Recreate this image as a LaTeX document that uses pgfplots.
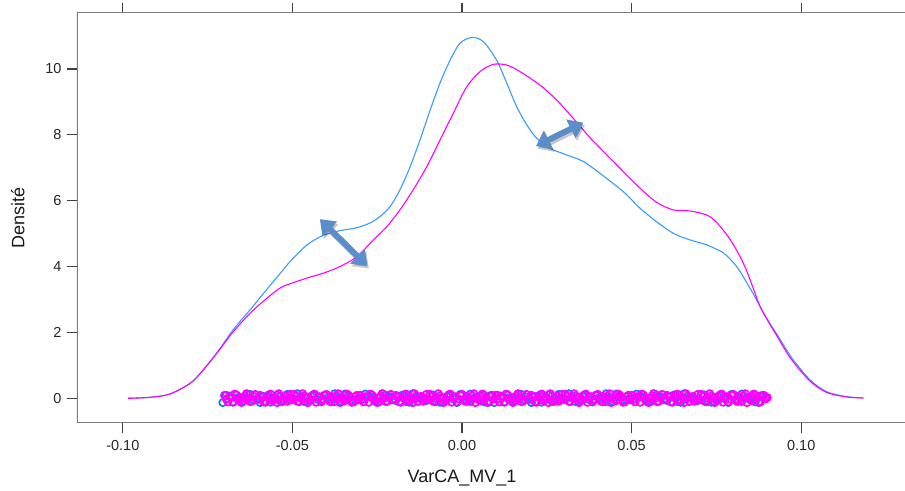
\documentclass[border=0pt]{standalone}
\usepackage{fontspec}
\setmainfont{Liberation Sans}
\usepackage{pgfplots}
\pgfplotsset{compat=1.18}
\usetikzlibrary{arrows.meta}

\definecolor{grpblue}{HTML}{0080FF}
\definecolor{grpblueline}{RGB}{55,155,255}
\definecolor{grpmag}{HTML}{FF00FF}
\definecolor{arrowblue}{RGB}{90,142,202}
\definecolor{axisgray}{RGB}{125,125,125}

% kernel density estimates of VarCA_MV_1 for the two groups
\pgfplotstableread{
x y
-0.0984 0.00
-0.0920 0.03
-0.0861 0.13
-0.0802 0.45
-0.0772 0.75
-0.0743 1.11
-0.0713 1.52
-0.0684 1.95
-0.0655 2.33
-0.0625 2.68
-0.0600 3.00
-0.0576 3.30
-0.0550 3.62
-0.0527 3.90
-0.0507 4.15
-0.0458 4.65
-0.0409 4.95
-0.0360 5.09
-0.0310 5.18
-0.0270 5.33
-0.0242 5.52
-0.0212 5.82
-0.0183 6.33
-0.0153 7.03
-0.0124 7.84
-0.0094 8.75
-0.0065 9.57
-0.0035 10.27
-0.0006 10.78
0.0029 10.96
0.0063 10.83
0.0102 10.27
0.0132 9.57
0.0161 8.86
0.0190 8.32
0.0220 7.90
0.0259 7.59
0.0309 7.39
0.0358 7.19
0.0407 6.83
0.0476 6.27
0.0525 5.77
0.0574 5.36
0.0623 5.01
0.0672 4.81
0.0721 4.66
0.0770 4.42
0.0800 4.12
0.0820 3.85
0.0840 3.50
0.0860 3.15
0.0879 2.78
0.0903 2.35
0.0928 1.95
0.0952 1.55
0.0977 1.16
0.1026 0.56
0.1075 0.20
0.1134 0.05
0.1183 0.01
}\densblue

\pgfplotstableread{
x y
-0.0984 0.00
-0.0920 0.03
-0.0861 0.13
-0.0802 0.45
-0.0772 0.75
-0.0743 1.11
-0.0713 1.50
-0.0684 1.90
-0.0655 2.25
-0.0625 2.58
-0.0600 2.82
-0.0576 3.03
-0.0550 3.25
-0.0527 3.40
-0.0478 3.58
-0.0458 3.65
-0.0409 3.80
-0.0360 4.00
-0.0310 4.30
-0.0261 4.81
-0.0222 5.21
-0.0183 5.72
-0.0144 6.33
-0.0104 7.03
-0.0065 7.84
-0.0026 8.65
0.0014 9.46
0.0053 9.92
0.0092 10.14
0.0132 10.12
0.0171 9.92
0.0230 9.51
0.0279 9.06
0.0328 8.50
0.0377 7.92
0.0427 7.39
0.0476 6.88
0.0525 6.38
0.0574 5.95
0.0623 5.72
0.0672 5.69
0.0721 5.57
0.0745 5.40
0.0770 5.11
0.0795 4.75
0.0820 4.30
0.0840 3.85
0.0860 3.30
0.0879 2.78
0.0903 2.33
0.0928 1.90
0.0952 1.48
0.0977 1.10
0.1026 0.52
0.1075 0.18
0.1134 0.04
0.1183 0.01
}\densmag

\begin{document}
\begin{tikzpicture}
\begin{axis}[
  scale only axis,
  width=828bp, height=410.3bp,
  xmin=-0.1135, xmax=0.1306,
  ymin=-0.75, ymax=11.71,
  xtick={-0.1,-0.05,0,0.05,0.1},
  xticklabels={-0.10,-0.05,0.00,0.05,0.10},
  ytick={0,2,4,6,8,10},
  yticklabels={0,2,4,6,8,10},
  xtick pos=both, ytick pos=left,
  xticklabel pos=bottom,
  tick align=outside,
  major tick length=10bp,
  tick style={color=black!75, line width=1.1bp},
  axis line style={draw=none},
  tick label style={font=\fontsize{14.5bp}{17bp}\selectfont, color=black!85},
  xticklabel style={yshift=-4bp},
  yticklabel style={xshift=-2bp},
  xlabel={VarCA\_MV\_1},
  ylabel={Densité},
  label style={font=\fontsize{18bp}{21bp}\selectfont, color=black!90},
  xlabel style={at={(rel axis cs:0.465,-0.134)}, anchor=center},
  ylabel style={at={(rel axis cs:-0.0713,0.5)}, anchor=center},
  mark size=3.6bp,
]
% frame: left, bottom and top sides
\draw[axisgray, line width=1.6bp] (rel axis cs:1,1) -- (rel axis cs:0,1) -- (rel axis cs:0,0) -- (rel axis cs:1,0);
\coordinate (sw) at (rel axis cs:0,0);
\coordinate (ne) at (rel axis cs:1,1);

% jittered observations, first group
\addplot[only marks, mark=o, grpblue, mark options={line width=1.7bp}] coordinates {
(-0.0705,-0.13)(-0.0685,0.07)(-0.0665,0.00)(-0.0645,-0.09)(-0.0625,0.12)(-0.0605,-0.02)(-0.0585,0.05)(-0.0565,-0.12)(-0.0545,0.10)(-0.0525,-0.07)
(-0.0505,0.02)(-0.0485,0.14)(-0.0465,-0.10)(-0.0445,0.06)(-0.0425,-0.04)(-0.0405,0.09)(-0.0385,-0.11)(-0.0365,0.03)(-0.0345,0.13)(-0.0325,-0.05)
(-0.0305,-0.05)(-0.0285,0.13)(-0.0265,0.03)(-0.0245,-0.11)(-0.0225,0.09)(-0.0205,-0.04)(-0.0185,0.06)(-0.0165,-0.10)(-0.0145,0.14)(-0.0125,0.02)
(-0.0105,-0.07)(-0.0085,0.10)(-0.0065,-0.12)(-0.0045,0.05)(-0.0025,-0.02)(-0.0005,0.12)(0.0015,-0.09)(0.0035,0.00)(0.0055,0.07)(0.0075,-0.13)
(0.0095,-0.13)(0.0115,0.07)(0.0135,0.00)(0.0155,-0.09)(0.0175,0.12)(0.0195,-0.02)(0.0215,0.05)(0.0235,-0.12)(0.0255,0.10)(0.0275,-0.07)
(0.0295,0.02)(0.0315,0.14)(0.0335,-0.10)(0.0355,0.06)(0.0375,-0.04)(0.0395,0.09)(0.0415,-0.11)(0.0435,0.03)(0.0455,0.13)(0.0475,-0.05)
(0.0495,-0.05)(0.0515,0.13)(0.0535,0.03)(0.0555,-0.11)(0.0575,0.09)(0.0595,-0.04)(0.0615,0.06)(0.0635,-0.10)(0.0655,0.14)(0.0675,0.02)
(0.0695,-0.07)(0.0715,0.10)(0.0735,-0.12)(0.0755,0.05)(0.0775,-0.02)(0.0795,0.12)(0.0815,-0.09)(0.0835,0.00)(0.0855,0.07)(0.0875,-0.13)
(0.0895,0.04)
(-0.0695,0.09)(-0.0675,-0.11)(-0.0655,0.03)(-0.0635,0.13)(-0.0615,-0.05)(-0.0595,-0.13)(-0.0575,0.07)(-0.0555,0.00)(-0.0535,-0.09)(-0.0515,0.12)
(-0.0495,-0.02)(-0.0475,0.05)(-0.0455,-0.12)(-0.0435,0.10)(-0.0415,-0.07)(-0.0395,0.02)(-0.0375,0.14)(-0.0355,-0.10)(-0.0335,0.06)(-0.0315,-0.04)
(-0.0295,-0.04)(-0.0275,0.06)(-0.0255,-0.10)(-0.0235,0.14)(-0.0215,0.02)(-0.0195,-0.07)(-0.0175,0.10)(-0.0155,-0.12)(-0.0135,0.05)(-0.0115,-0.02)
(-0.0095,0.12)(-0.0075,-0.09)(-0.0055,0.00)(-0.0035,0.07)(-0.0015,-0.13)(0.0005,-0.05)(0.0025,0.13)(0.0045,0.03)(0.0065,-0.11)(0.0085,0.09)
(0.0105,0.09)(0.0125,-0.11)(0.0145,0.03)(0.0165,0.13)(0.0185,-0.05)(0.0205,-0.13)(0.0225,0.07)(0.0245,0.00)(0.0265,-0.09)(0.0285,0.12)
(0.0305,-0.02)(0.0325,0.05)(0.0345,-0.12)(0.0365,0.10)(0.0385,-0.07)(0.0405,0.02)(0.0425,0.14)(0.0445,-0.10)(0.0465,0.06)(0.0485,-0.04)
(0.0505,-0.04)(0.0525,0.06)(0.0545,-0.10)(0.0565,0.14)(0.0585,0.02)(0.0605,-0.07)(0.0625,0.10)(0.0645,-0.12)(0.0665,0.05)(0.0685,-0.02)
(0.0705,0.12)(0.0725,-0.09)(0.0745,0.00)(0.0765,0.07)(0.0785,-0.13)(0.0805,-0.05)(0.0825,0.13)(0.0845,0.03)(0.0865,-0.11)(0.0885,0.09)
};
\addplot[grpblueline, line width=1.1bp, smooth] table {\densblue};

% jittered observations, second group
\addplot[only marks, mark=o, grpmag, mark options={line width=1.7bp}] coordinates {
(-0.070,0.09)(-0.069,-0.11)(-0.068,0.03)(-0.067,0.13)(-0.066,-0.05)(-0.065,-0.13)(-0.064,0.07)(-0.063,0.00)(-0.062,-0.09)(-0.061,0.12)
(-0.060,-0.02)(-0.059,0.05)(-0.058,-0.12)(-0.057,0.10)(-0.056,-0.07)(-0.055,0.02)(-0.054,0.14)(-0.053,-0.10)(-0.052,0.06)(-0.051,-0.04)
(-0.050,-0.04)(-0.049,0.06)(-0.048,-0.10)(-0.047,0.14)(-0.046,0.02)(-0.045,-0.07)(-0.044,0.10)(-0.043,-0.12)(-0.042,0.05)(-0.041,-0.02)
(-0.040,0.12)(-0.039,-0.09)(-0.038,0.00)(-0.037,0.07)(-0.036,-0.13)(-0.035,-0.05)(-0.034,0.13)(-0.033,0.03)(-0.032,-0.11)(-0.031,0.09)
(-0.030,0.09)(-0.029,-0.11)(-0.028,0.03)(-0.027,0.13)(-0.026,-0.05)(-0.025,-0.13)(-0.024,0.07)(-0.023,0.00)(-0.022,-0.09)(-0.021,0.12)
(-0.020,-0.02)(-0.019,0.05)(-0.018,-0.12)(-0.017,0.10)(-0.016,-0.07)(-0.015,0.02)(-0.014,0.14)(-0.013,-0.10)(-0.012,0.06)(-0.011,-0.04)
(-0.010,-0.04)(-0.009,0.06)(-0.008,-0.10)(-0.007,0.14)(-0.006,0.02)(-0.005,-0.07)(-0.004,0.10)(-0.003,-0.12)(-0.002,0.05)(-0.001,-0.02)
(0.000,0.12)(0.001,-0.09)(0.002,0.00)(0.003,0.07)(0.004,-0.13)(0.005,-0.05)(0.006,0.13)(0.007,0.03)(0.008,-0.11)(0.009,0.09)
(0.010,0.09)(0.011,-0.11)(0.012,0.03)(0.013,0.13)(0.014,-0.05)(0.015,-0.13)(0.016,0.07)(0.017,0.00)(0.018,-0.09)(0.019,0.12)
(0.020,-0.02)(0.021,0.05)(0.022,-0.12)(0.023,0.10)(0.024,-0.07)(0.025,0.02)(0.026,0.14)(0.027,-0.10)(0.028,0.06)(0.029,-0.04)
(0.030,-0.04)(0.031,0.06)(0.032,-0.10)(0.033,0.14)(0.034,0.02)(0.035,-0.07)(0.036,0.10)(0.037,-0.12)(0.038,0.05)(0.039,-0.02)
(0.040,0.12)(0.041,-0.09)(0.042,0.00)(0.043,0.07)(0.044,-0.13)(0.045,-0.05)(0.046,0.13)(0.047,0.03)(0.048,-0.11)(0.049,0.09)
(0.050,0.09)(0.051,-0.11)(0.052,0.03)(0.053,0.13)(0.054,-0.05)(0.055,-0.13)(0.056,0.07)(0.057,0.00)(0.058,-0.09)(0.059,0.12)
(0.060,-0.02)(0.061,0.05)(0.062,-0.12)(0.063,0.10)(0.064,-0.07)(0.065,0.02)(0.066,0.14)(0.067,-0.10)(0.068,0.06)(0.069,-0.04)
(0.070,-0.04)(0.071,0.06)(0.072,-0.10)(0.073,0.14)(0.074,0.02)(0.075,-0.07)(0.076,0.10)(0.077,-0.12)(0.078,0.05)(0.079,-0.02)
(0.080,0.12)(0.081,-0.09)(0.082,0.00)(0.083,0.07)(0.084,-0.13)(0.085,-0.05)(0.086,0.13)(0.087,0.03)(0.088,-0.11)(0.089,0.09)
(0.090,0.02)
(-0.0695,-0.02)(-0.0685,0.05)(-0.0675,-0.12)(-0.0665,0.10)(-0.0655,-0.07)(-0.0645,0.02)(-0.0635,0.14)(-0.0625,-0.10)(-0.0615,0.06)(-0.0605,-0.04)
(-0.0595,0.09)(-0.0585,-0.11)(-0.0575,0.03)(-0.0565,0.13)(-0.0555,-0.05)(-0.0545,-0.13)(-0.0535,0.07)(-0.0525,0.00)(-0.0515,-0.09)(-0.0505,0.12)
(-0.0495,0.12)(-0.0485,-0.09)(-0.0475,0.00)(-0.0465,0.07)(-0.0455,-0.13)(-0.0445,-0.05)(-0.0435,0.13)(-0.0425,0.03)(-0.0415,-0.11)(-0.0405,0.09)
(-0.0395,-0.04)(-0.0385,0.06)(-0.0375,-0.10)(-0.0365,0.14)(-0.0355,0.02)(-0.0345,-0.07)(-0.0335,0.10)(-0.0325,-0.12)(-0.0315,0.05)(-0.0305,-0.02)
(-0.0295,-0.02)(-0.0285,0.05)(-0.0275,-0.12)(-0.0265,0.10)(-0.0255,-0.07)(-0.0245,0.02)(-0.0235,0.14)(-0.0225,-0.10)(-0.0215,0.06)(-0.0205,-0.04)
(-0.0195,0.09)(-0.0185,-0.11)(-0.0175,0.03)(-0.0165,0.13)(-0.0155,-0.05)(-0.0145,-0.13)(-0.0135,0.07)(-0.0125,0.00)(-0.0115,-0.09)(-0.0105,0.12)
(-0.0095,0.12)(-0.0085,-0.09)(-0.0075,0.00)(-0.0065,0.07)(-0.0055,-0.13)(-0.0045,-0.05)(-0.0035,0.13)(-0.0025,0.03)(-0.0015,-0.11)(-0.0005,0.09)
(0.0005,-0.04)(0.0015,0.06)(0.0025,-0.10)(0.0035,0.14)(0.0045,0.02)(0.0055,-0.07)(0.0065,0.10)(0.0075,-0.12)(0.0085,0.05)(0.0095,-0.02)
(0.0105,-0.02)(0.0115,0.05)(0.0125,-0.12)(0.0135,0.10)(0.0145,-0.07)(0.0155,0.02)(0.0165,0.14)(0.0175,-0.10)(0.0185,0.06)(0.0195,-0.04)
(0.0205,0.09)(0.0215,-0.11)(0.0225,0.03)(0.0235,0.13)(0.0245,-0.05)(0.0255,-0.13)(0.0265,0.07)(0.0275,0.00)(0.0285,-0.09)(0.0295,0.12)
(0.0305,0.12)(0.0315,-0.09)(0.0325,0.00)(0.0335,0.07)(0.0345,-0.13)(0.0355,-0.05)(0.0365,0.13)(0.0375,0.03)(0.0385,-0.11)(0.0395,0.09)
(0.0405,-0.04)(0.0415,0.06)(0.0425,-0.10)(0.0435,0.14)(0.0445,0.02)(0.0455,-0.07)(0.0465,0.10)(0.0475,-0.12)(0.0485,0.05)(0.0495,-0.02)
(0.0505,-0.02)(0.0515,0.05)(0.0525,-0.12)(0.0535,0.10)(0.0545,-0.07)(0.0555,0.02)(0.0565,0.14)(0.0575,-0.10)(0.0585,0.06)(0.0595,-0.04)
(0.0605,0.09)(0.0615,-0.11)(0.0625,0.03)(0.0635,0.13)(0.0645,-0.05)(0.0655,-0.13)(0.0665,0.07)(0.0675,0.00)(0.0685,-0.09)(0.0695,0.12)
(0.0705,0.12)(0.0715,-0.09)(0.0725,0.00)(0.0735,0.07)(0.0745,-0.13)(0.0755,-0.05)(0.0765,0.13)(0.0775,0.03)(0.0785,-0.11)(0.0795,0.09)
(0.0805,-0.04)(0.0815,0.06)(0.0825,-0.10)(0.0835,0.14)(0.0845,0.02)(0.0855,-0.07)(0.0865,0.10)(0.0875,-0.12)(0.0885,0.05)(0.0895,-0.02)
};
\addplot[grpmag, line width=1.1bp, smooth] table {\densmag};

% double-headed arrows marking the gap between the two curves
\tikzset{gaparrow/.style={line width=6bp, {Triangle[width=20bp,length=14bp]}-{Triangle[width=20bp,length=14bp]}}}
\draw[gaparrow, black, opacity=0.22, transform canvas={xshift=1.5bp, yshift=-2.5bp}] (axis cs:-0.0419,5.44) -- (axis cs:-0.0279,4.02);
\draw[gaparrow, arrowblue] (axis cs:-0.0419,5.44) -- (axis cs:-0.0279,4.02);
\draw[gaparrow, black, opacity=0.22, transform canvas={xshift=1.5bp, yshift=-2.5bp}] (axis cs:0.0218,7.66) -- (axis cs:0.0358,8.37);
\draw[gaparrow, arrowblue] (axis cs:0.0218,7.66) -- (axis cs:0.0358,8.37);
\end{axis}
\pgfresetboundingbox
\path (sw) ++(-77bp,-68bp) rectangle ([shift={(0bp,12.7bp)}]ne);
\end{tikzpicture}
\end{document}
